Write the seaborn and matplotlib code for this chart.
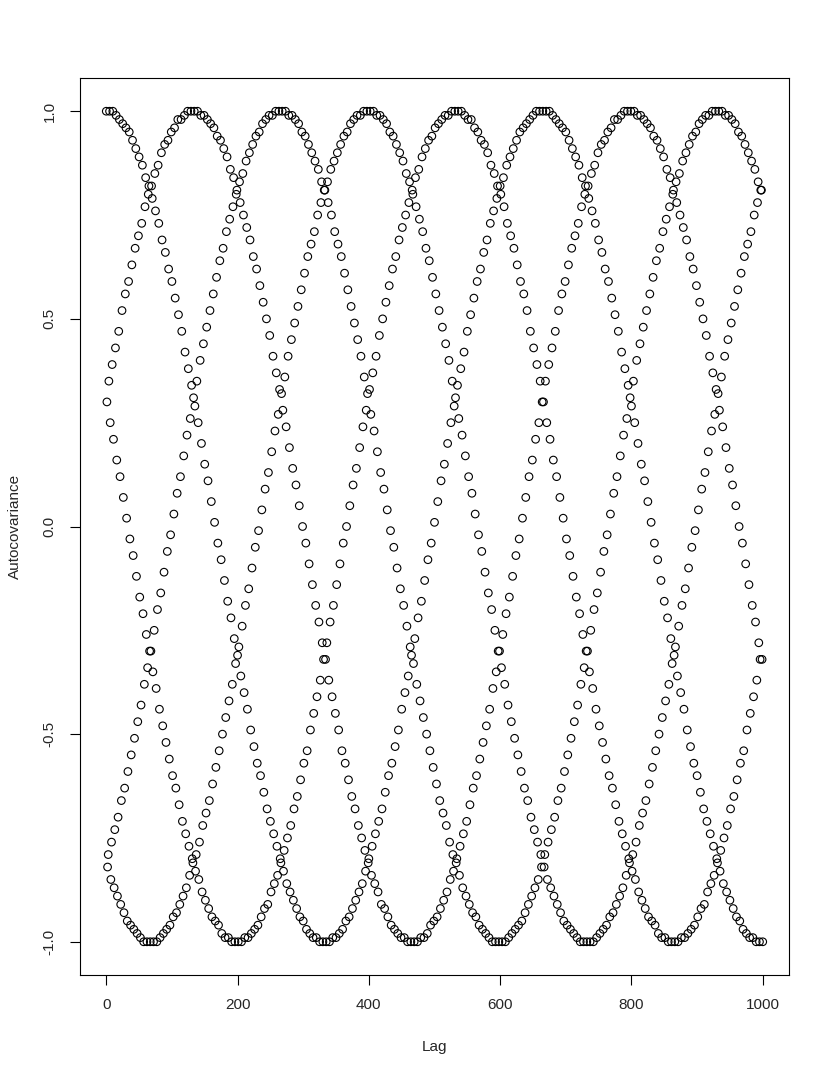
import numpy as np
import matplotlib
matplotlib.use("Agg")
import matplotlib.pyplot as plt
import pandas as pd
import seaborn as sns

# autocovariance values, split by lag mod 5
# (lags 0,5,10,... / 1,6,11,... / ... ) so each list is one smooth trace
acv_r0 = [
    1.00, 1.00, 1.00, 0.99, 0.98, 0.97, 0.96, 0.95, 0.93, 0.91,
    0.89, 0.87, 0.84, 0.82, 0.79, 0.76, 0.73, 0.69, 0.66, 0.62,
    0.59, 0.55, 0.51, 0.47, 0.42, 0.38, 0.34, 0.29, 0.25, 0.20,
    0.15, 0.11, 0.06, 0.01, -0.04, -0.08, -0.13, -0.18, -0.22, -0.27,
    -0.31, -0.36, -0.40, -0.44, -0.49, -0.53, -0.57, -0.60, -0.64, -0.68,
    -0.71, -0.74, -0.77, -0.80, -0.83, -0.86, -0.88, -0.90, -0.92, -0.94,
    -0.95, -0.97, -0.98, -0.99, -0.99, -1.00, -1.00,
    -1.00, -1.00, -0.99, -0.99, -0.98, -0.97, -0.95, -0.94, -0.92, -0.90,
    -0.88, -0.86, -0.83, -0.80, -0.77, -0.74, -0.71, -0.68, -0.64, -0.60,
    -0.57, -0.53, -0.49, -0.44, -0.40, -0.36, -0.31, -0.27, -0.22, -0.18,
    -0.13, -0.08, -0.04, 0.01, 0.06, 0.11, 0.15, 0.20, 0.25, 0.29,
    0.34, 0.38, 0.42, 0.47, 0.51, 0.55, 0.59, 0.62, 0.66, 0.69,
    0.73, 0.76, 0.79, 0.82, 0.84, 0.87, 0.89, 0.91, 0.93, 0.95,
    0.96, 0.97, 0.98, 0.99, 1.00, 1.00,
    1.00, 1.00, 1.00, 0.99, 0.98, 0.97, 0.96, 0.95, 0.93, 0.91,
    0.89, 0.87, 0.84, 0.82, 0.79, 0.76, 0.73, 0.69, 0.66, 0.62,
    0.59, 0.55, 0.51, 0.47, 0.42, 0.38, 0.34, 0.29, 0.25, 0.20,
    0.15, 0.11, 0.06, 0.01, -0.04, -0.08, -0.13, -0.18, -0.22, -0.27,
    -0.31, -0.36, -0.40, -0.44, -0.49, -0.53, -0.57, -0.60, -0.64, -0.68,
    -0.71, -0.74, -0.77, -0.80, -0.83, -0.86, -0.88, -0.90, -0.92, -0.94,
    -0.95, -0.97, -0.98, -0.99, -0.99, -1.00, -1.00,
    -1.00,
]

acv_r1 = [
    0.30, 0.25, 0.21, 0.16, 0.12, 0.07, 0.02, -0.03, -0.07, -0.12,
    -0.17, -0.21, -0.26, -0.30, -0.35, -0.39, -0.44, -0.48, -0.52, -0.56,
    -0.60, -0.63, -0.67, -0.71, -0.74, -0.77, -0.80, -0.83, -0.85, -0.88,
    -0.90, -0.92, -0.94, -0.95, -0.96, -0.98, -0.99, -0.99, -1.00, -1.00,
    -1.00, -1.00, -0.99, -0.99, -0.98, -0.97, -0.96, -0.94, -0.92, -0.91,
    -0.88, -0.86, -0.84, -0.81, -0.78, -0.75, -0.72, -0.68, -0.65, -0.61,
    -0.57, -0.54, -0.49, -0.45, -0.41, -0.37, -0.32, -0.28, -0.23, -0.19,
    -0.14, -0.09, -0.04, 0.00, 0.05, 0.10, 0.14, 0.19, 0.24, 0.28,
    0.33, 0.37, 0.41, 0.46, 0.50, 0.54, 0.58, 0.62, 0.65, 0.69,
    0.72, 0.75, 0.78, 0.81, 0.84, 0.86, 0.89, 0.91, 0.93, 0.94,
    0.96, 0.97, 0.98, 0.99, 0.99, 1.00, 1.00,
    1.00, 1.00, 0.99, 0.98, 0.98, 0.96, 0.95, 0.93, 0.92, 0.90,
    0.87, 0.85, 0.82, 0.80, 0.77, 0.73, 0.70, 0.67, 0.63, 0.59,
    0.56, 0.52, 0.47, 0.43, 0.39, 0.35, 0.30, 0.25, 0.21, 0.16,
    0.12, 0.07, 0.02, -0.03, -0.07, -0.12, -0.17, -0.21, -0.26, -0.30,
    -0.35, -0.39, -0.44, -0.48, -0.52, -0.56, -0.60, -0.63, -0.67, -0.71,
    -0.74, -0.77, -0.80, -0.83, -0.85, -0.88, -0.90, -0.92, -0.94, -0.95,
    -0.96, -0.98, -0.99, -0.99, -1.00, -1.00,
    -1.00, -1.00, -0.99, -0.99, -0.98, -0.97, -0.96, -0.94, -0.92, -0.91,
    -0.88, -0.86, -0.84, -0.81, -0.78, -0.75, -0.72, -0.68, -0.65, -0.61,
    -0.57, -0.54, -0.49, -0.45, -0.41, -0.37, -0.32,
]

acv_r2 = [
    -0.82, -0.85, -0.87, -0.89, -0.91, -0.93, -0.95, -0.96, -0.97, -0.98,
    -0.99, -1.00, -1.00,
    -1.00, -1.00, -1.00, -0.99, -0.98, -0.97, -0.96, -0.94, -0.93, -0.91,
    -0.89, -0.87, -0.84, -0.81, -0.79, -0.76, -0.72, -0.69, -0.66, -0.62,
    -0.58, -0.54, -0.50, -0.46, -0.42, -0.38, -0.33, -0.29, -0.24, -0.19,
    -0.15, -0.10, -0.05, -0.01, 0.04, 0.09, 0.13, 0.18, 0.23, 0.27,
    0.32, 0.36, 0.41, 0.45, 0.49, 0.53, 0.57, 0.61, 0.65, 0.68,
    0.71, 0.75, 0.78, 0.81, 0.83, 0.86, 0.88, 0.90, 0.92, 0.94,
    0.95, 0.97, 0.98, 0.99, 0.99, 1.00, 1.00,
    1.00, 1.00, 0.99, 0.99, 0.98, 0.97, 0.95, 0.94, 0.92, 0.90,
    0.88, 0.85, 0.83, 0.80, 0.77, 0.74, 0.71, 0.67, 0.64, 0.60,
    0.56, 0.52, 0.48, 0.44, 0.40, 0.35, 0.31, 0.26, 0.22, 0.17,
    0.12, 0.08, 0.03, -0.02, -0.06, -0.11, -0.16, -0.20, -0.25, -0.30,
    -0.34, -0.38, -0.43, -0.47, -0.51, -0.55, -0.59, -0.63, -0.66, -0.70,
    -0.73, -0.76, -0.79, -0.82, -0.85, -0.87, -0.89, -0.91, -0.93, -0.95,
    -0.96, -0.97, -0.98, -0.99, -1.00, -1.00,
    -1.00, -1.00, -1.00, -0.99, -0.98, -0.97, -0.96, -0.94, -0.93, -0.91,
    -0.89, -0.87, -0.84, -0.81, -0.79, -0.76, -0.72, -0.69, -0.66, -0.62,
    -0.58, -0.54, -0.50, -0.46, -0.42, -0.38, -0.33, -0.29, -0.24, -0.19,
    -0.15, -0.10, -0.05, -0.01, 0.04, 0.09, 0.13, 0.18, 0.23, 0.27,
    0.32, 0.36, 0.41, 0.45, 0.49, 0.53, 0.57, 0.61, 0.65, 0.68,
    0.71, 0.75, 0.78, 0.81,
]

acv_r3 = [
    -0.79, -0.76, -0.73, -0.70, -0.66, -0.63, -0.59, -0.55, -0.51, -0.47,
    -0.43, -0.38, -0.34, -0.30, -0.25, -0.20, -0.16, -0.11, -0.06, -0.02,
    0.03, 0.08, 0.12, 0.17, 0.22, 0.26, 0.31, 0.35, 0.40, 0.44,
    0.48, 0.52, 0.56, 0.60, 0.64, 0.67, 0.71, 0.74, 0.77, 0.80,
    0.83, 0.85, 0.88, 0.90, 0.92, 0.94, 0.95, 0.97, 0.98, 0.99,
    0.99, 1.00, 1.00,
    1.00, 1.00, 0.99, 0.99, 0.98, 0.97, 0.95, 0.94, 0.92, 0.90,
    0.88, 0.86, 0.83, 0.81, 0.78, 0.75, 0.71, 0.68, 0.65, 0.61,
    0.57, 0.53, 0.49, 0.45, 0.41, 0.36, 0.32, 0.27, 0.23, 0.18,
    0.13, 0.09, 0.04, -0.01, -0.05, -0.10, -0.15, -0.19, -0.24, -0.29,
    -0.33, -0.38, -0.42, -0.46, -0.50, -0.54, -0.58, -0.62, -0.66, -0.69,
    -0.72, -0.76, -0.79, -0.81, -0.84, -0.87, -0.89, -0.91, -0.93, -0.94,
    -0.96, -0.97, -0.98, -0.99, -1.00, -1.00, -1.00,
    -1.00, -1.00, -0.99, -0.98, -0.97, -0.96, -0.95, -0.93, -0.91, -0.89,
    -0.87, -0.85, -0.82,
    -0.79, -0.76, -0.73, -0.70, -0.66, -0.63, -0.59, -0.55, -0.51, -0.47,
    -0.43, -0.38, -0.34, -0.30, -0.25, -0.20, -0.16, -0.11, -0.06, -0.02,
    0.03, 0.08, 0.12, 0.17, 0.22, 0.26, 0.31, 0.35, 0.40, 0.44,
    0.48, 0.52, 0.56, 0.60, 0.64, 0.67, 0.71, 0.74, 0.77, 0.80,
    0.83, 0.85, 0.88, 0.90, 0.92, 0.94, 0.95, 0.97, 0.98, 0.99,
    0.99, 1.00, 1.00,
    1.00, 1.00, 0.99, 0.99, 0.98, 0.97, 0.95, 0.94, 0.92, 0.90,
    0.88, 0.86, 0.83, 0.81,
]

acv_r4 = [
    0.35, 0.39, 0.43, 0.47, 0.52, 0.56, 0.59, 0.63, 0.67, 0.70,
    0.73, 0.77, 0.80, 0.82, 0.85, 0.87, 0.90, 0.92, 0.93, 0.95,
    0.96, 0.98, 0.98, 0.99, 1.00, 1.00,
    1.00, 1.00, 0.99, 0.99, 0.98, 0.97, 0.96, 0.94, 0.93, 0.91,
    0.89, 0.86, 0.84, 0.81, 0.78, 0.75, 0.72, 0.69, 0.65, 0.62,
    0.58, 0.54, 0.50, 0.46, 0.41, 0.37, 0.33, 0.28, 0.24, 0.19,
    0.14, 0.10, 0.05, 0.00, -0.04, -0.09, -0.14, -0.19, -0.23, -0.28,
    -0.32, -0.37, -0.41, -0.45, -0.49, -0.54, -0.57, -0.61, -0.65, -0.68,
    -0.72, -0.75, -0.78, -0.81, -0.84, -0.86, -0.88, -0.91, -0.92, -0.94,
    -0.96, -0.97, -0.98, -0.99, -0.99, -1.00, -1.00,
    -1.00, -1.00, -0.99, -0.99, -0.98, -0.96, -0.95, -0.94, -0.92, -0.90,
    -0.88, -0.85, -0.83, -0.80, -0.77, -0.74, -0.71, -0.67, -0.63, -0.60,
    -0.56, -0.52, -0.48, -0.44, -0.39, -0.35, -0.30, -0.26, -0.21, -0.17,
    -0.12, -0.07, -0.03, 0.02, 0.07, 0.12, 0.16, 0.21, 0.25, 0.30,
    0.35, 0.39, 0.43, 0.47, 0.52, 0.56, 0.59, 0.63, 0.67, 0.70,
    0.73, 0.77, 0.80, 0.82, 0.85, 0.87, 0.90, 0.92, 0.93, 0.95,
    0.96, 0.98, 0.98, 0.99, 1.00, 1.00,
    1.00, 1.00, 0.99, 0.99, 0.98, 0.97, 0.96, 0.94, 0.93, 0.91,
    0.89, 0.86, 0.84, 0.81, 0.78, 0.75, 0.72, 0.69, 0.65, 0.62,
    0.58, 0.54, 0.50, 0.46, 0.41, 0.37, 0.33, 0.28, 0.24, 0.19,
    0.14, 0.10, 0.05, 0.00, -0.04, -0.09, -0.14, -0.19, -0.23, -0.28,
    -0.32,
]

x_ticks = [0, 200, 400, 600, 800, 1000]
y_ticks = [-1.0, -0.5, 0.0, 0.5, 1.0]
y_ticklabels = ["-1.0", "-0.5", "0.0", "0.5", "1.0"]

# lag k sits in list k % 5 at position k // 5
frames = []
for r, vals in enumerate([acv_r0, acv_r1, acv_r2, acv_r3, acv_r4]):
    frames.append(pd.DataFrame({"lag": r + 5 * np.arange(len(vals)), "acv": vals}))
df = pd.concat(frames).sort_values("lag")

sns.set_style("ticks")
plt.rcParams["font.family"] = ["Liberation Sans", "DejaVu Sans"]

fig = plt.figure(figsize=(8.3, 10.75), dpi=100)
ax = fig.add_axes([80 / 830, 1 - 975 / 1075, 709 / 830, 897 / 1075])

sns.scatterplot(data=df, x="lag", y="acv", ax=ax, marker="o", s=30,
                facecolor="none", edgecolor="black", linewidth=0.8, legend=False)

ax.set_xlim(-40, 1040)
ax.set_ylim(-1.08, 1.08)
ax.set_xticks(x_ticks)
ax.set_yticks(y_ticks)
ax.set_yticklabels(y_ticklabels, rotation=90, va="center")
ax.tick_params(axis="both", direction="out", length=7.2, width=0.8,
               color="black", labelsize=11, pad=9.5)
for s in ax.spines.values():
    s.set_visible(True)
    s.set_color("black")
    s.set_linewidth(0.8)

ax.set_xlabel("Lag", fontsize=11, labelpad=20)
ax.set_ylabel("Autocovariance", fontsize=11, labelpad=15)

fig.savefig("out.png", dpi=100)
